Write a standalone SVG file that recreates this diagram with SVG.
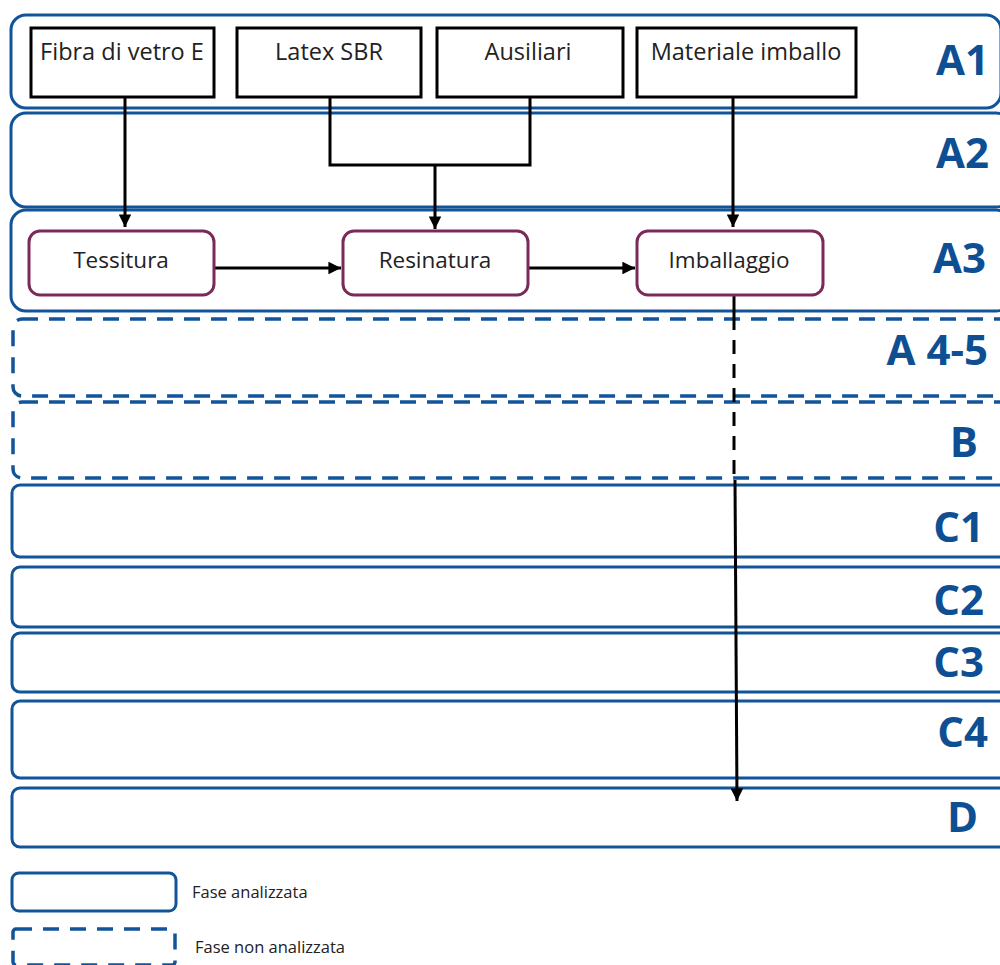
<svg xmlns="http://www.w3.org/2000/svg" width="1000" height="965" viewBox="0 0 1000 965">
<style>
.band{fill:none;stroke:#11549a;stroke-width:3}
.dash{fill:none;stroke:#11549a;stroke-width:3.5;stroke-dasharray:16 11}
.lbl{font-family:"Open Sans","Liberation Sans",sans-serif;font-weight:bold;font-size:42px;fill:#0e4f93;text-anchor:end}
.src{fill:#fff;stroke:#000;stroke-width:3}
.proc{fill:#fff;stroke:#7a2a58;stroke-width:3}
.t{font-family:"Open Sans","Liberation Sans",sans-serif;font-size:22.5px;fill:#222;text-anchor:middle}
.ts{font-family:"Open Sans","Liberation Sans",sans-serif;font-size:23.5px;fill:#222;text-anchor:middle}
.leg{font-family:"Open Sans","Liberation Sans",sans-serif;font-size:16.5px;fill:#222}
.con{fill:none;stroke:#000;stroke-width:3}
</style>
<defs>
<marker id="ah" viewBox="0 0 10 10" refX="10" refY="5" markerWidth="4.2" markerHeight="4.2" markerUnits="strokeWidth" orient="auto">
<path d="M0,0 L10,5 L0,10 z" fill="#000"/>
</marker>
</defs>
<rect width="1000" height="965" fill="#fff"/>
<g id="bands">
<g id="band-A1"><rect class="band" x="11" y="15" width="990" height="93" rx="15"/><text class="lbl" x="989" y="75">A1</text></g>
<g id="band-A2"><rect class="band" x="11" y="113" width="1000" height="94" rx="15"/><text class="lbl" x="989" y="168">A2</text></g>
<g id="band-A3"><rect class="band" x="11" y="210" width="1000" height="101" rx="15"/><text class="lbl" x="986" y="273">A3</text></g>
<g id="band-A45"><rect class="dash" x="13" y="319" width="1000" height="77" rx="9"/><text class="lbl" x="988" y="365">A 4-5</text></g>
<g id="band-B"><rect class="dash" x="13" y="402" width="1000" height="76" rx="9"/><text class="lbl" x="978" y="457">B</text></g>
<g id="band-C1"><rect class="band" x="12" y="485" width="1000" height="72" rx="8"/><text class="lbl" x="984" y="542">C1</text></g>
<g id="band-C2"><rect class="band" x="12" y="567" width="1000" height="60" rx="8"/><text class="lbl" x="984" y="615">C2</text></g>
<g id="band-C3"><rect class="band" x="12" y="633" width="1000" height="59" rx="8"/><text class="lbl" x="984" y="677">C3</text></g>
<g id="band-C4"><rect class="band" x="12" y="701" width="1000" height="77" rx="8"/><text class="lbl" x="988" y="747">C4</text></g>
<g id="band-D"><rect class="band" x="12" y="788" width="1000" height="59" rx="8"/><text class="lbl" x="978" y="832">D</text></g>
</g>
<g id="connectors">
<path class="con" d="M125,97 V227" marker-end="url(#ah)"/>
<path class="con" d="M330,97 V165 H530 V97"/>
<path class="con" d="M435,165 V229" marker-end="url(#ah)"/>
<path class="con" d="M733,97 V227" marker-end="url(#ah)"/>
<path class="con" d="M214,268 H341" marker-end="url(#ah)"/>
<path class="con" d="M528,268 H635" marker-end="url(#ah)"/>
<path class="con" d="M734,295 V316"/>
<path class="con" d="M734,316 V480" stroke-dasharray="14 10"/>
<path class="con" d="M735,480 L737,801" marker-end="url(#ah)"/>
</g>
<g id="src-fibra"><rect class="src" x="31" y="28" width="183" height="69"/><text class="ts" x="122" y="60">Fibra di vetro E</text></g>
<g id="src-latex"><rect class="src" x="237" y="28" width="184" height="69"/><text class="ts" x="329" y="60">Latex SBR</text></g>
<g id="src-ausiliari"><rect class="src" x="437" y="28" width="186" height="69"/><text class="ts" x="528" y="60">Ausiliari</text></g>
<g id="src-imballo"><rect class="src" x="637" y="28" width="219" height="69"/><text class="ts" x="746" y="60">Materiale imballo</text></g>
<g id="proc-tessitura"><rect class="proc" x="29" y="231" width="185" height="64" rx="11"/><text class="t" x="121" y="268">Tessitura</text></g>
<g id="proc-resinatura"><rect class="proc" x="343" y="231" width="185" height="64" rx="11"/><text class="t" x="435" y="268">Resinatura</text></g>
<g id="proc-imballaggio"><rect class="proc" x="637" y="231" width="186" height="64" rx="11"/><text class="t" x="729" y="268">Imballaggio</text></g>
<g id="legend">
<rect class="band" x="12" y="873" width="164" height="38" rx="7"/>
<text class="leg" x="192" y="898">Fase analizzata</text>
<rect class="dash" x="13" y="929" width="162" height="36" rx="3"/>
<text class="leg" x="195" y="953">Fase non analizzata</text>
</g>
</svg>
